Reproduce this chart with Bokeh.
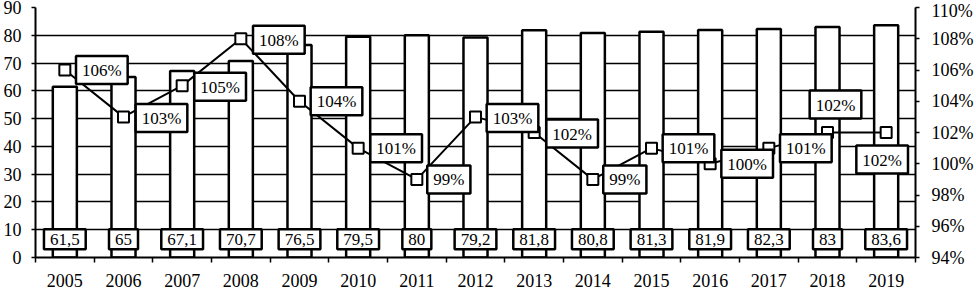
from bokeh.plotting import figure
from bokeh.models import (ColumnDataSource, Range1d, LinearAxis, FixedTicker,
                          CustomJSTickFormatter, PrintfTickFormatter)
from bokeh.core.properties import value
from bokeh.embed import file_html
from bokeh.resources import INLINE

years = ["2005", "2006", "2007", "2008", "2009", "2010", "2011", "2012",
         "2013", "2014", "2015", "2016", "2017", "2018", "2019"]
volumes = [61.5, 65, 67.1, 70.7, 76.5, 79.5, 80, 79.2, 81.8, 80.8, 81.3, 81.9, 82.3, 83, 83.6]
volume_labels = ["61,5", "65", "67,1", "70,7", "76,5", "79,5", "80", "79,2",
                 "81,8", "80,8", "81,3", "81,9", "82,3", "83", "83,6"]
growth_pct = [106, 103, 105, 108, 104, 101, 99, 103, 102, 99, 101, 100, 101, 102, 102]

# label placement (screen px offsets from marker centre)
pct_dx = [37, 38, 38, 38, 37, 38, 32, 37, 38, 32, 37, 37, 37, 8, -4]
pct_dy = [0, 1, 1, 1, 0, 0, 0, 1, 1, 0, 0, 0, 0, -28, 27]

FONT = "Liberation Serif"
n = len(years)
xc = [i + 0.5 for i in range(n)]

src = ColumnDataSource(dict(
    x=xc, vol=volumes, vlab=volume_labels, vy=[6.6] * n,
    pct=growth_pct, plab=[f"{v}%" for v in growth_pct], dx=pct_dx, dy=pct_dy,
))

p = figure(width=976, height=289, output_backend="svg", toolbar_location=None,
           x_range=Range1d(0, n), y_range=Range1d(0, 90),
           min_border_left=34, min_border_right=58, min_border_top=7, min_border_bottom=29)
p.outline_line_color = None
p.background_fill_color = "white"
p.border_fill_color = "white"

p.extra_y_ranges = {"pct": Range1d(94, 110)}

# grid
p.xgrid.visible = False
p.ygrid.grid_line_color = "black"
p.ygrid.grid_line_width = 1.5
p.ygrid.ticker = FixedTicker(ticks=list(range(0, 91, 10)))

# left axis
ya = p.yaxis[0]
ya.ticker = FixedTicker(ticks=list(range(0, 91, 10)))
ya.major_tick_out = 4
ya.major_tick_in = 0
ya.minor_tick_line_color = None
ya.major_tick_line_color = "black"
ya.major_tick_line_width = 1.5
ya.axis_line_width = 2
ya.axis_line_color = "black"
ya.major_label_standoff = 10
ya.major_label_text_font = FONT
ya.major_label_text_font_size = "18px"
ya.major_label_text_color = "black"

# right axis
ra = LinearAxis(y_range_name="pct", ticker=FixedTicker(ticks=list(range(94, 111, 2))),
                formatter=PrintfTickFormatter(format="%d%%"))
ra.major_tick_out = 4
ra.major_tick_in = 0
ra.minor_tick_line_color = None
ra.major_tick_line_width = 1.5
ra.axis_line_width = 2
ra.major_label_standoff = 12
ra.major_label_text_font = FONT
ra.major_label_text_font_size = "18px"
ra.major_label_text_color = "black"
p.add_layout(ra, "right")

# bottom axis
xa = p.xaxis[0]
xa.ticker = FixedTicker(ticks=xc, minor_ticks=list(range(0, n + 1)))
xa.formatter = CustomJSTickFormatter(args=dict(years=years),
                                     code="return years[Math.round(tick - 0.5)] || '';")
xa.major_tick_line_color = None
xa.minor_tick_line_color = "black"
xa.minor_tick_line_width = 1.5
xa.minor_tick_out = 5
xa.minor_tick_in = 0
xa.axis_line_width = 2
xa.major_label_standoff = 10
xa.major_label_text_font = FONT
xa.major_label_text_font_size = "18px"
xa.major_label_text_color = "black"

# bars
p.vbar(x="x", top="vol", width=0.41, source=src, fill_color="white",
       line_color="black", line_width=2.5)

box_pad = dict(left=6, right=6, top=5, bottom=4)

# bar value labels
p.text(x="x", y="vy", text="vlab", source=src, text_align="center", text_baseline="middle",
       text_font=value(FONT), text_font_size="17px", text_color="black",
       background_fill_color="white", border_line_color="black", border_line_width=2.5,
       padding=box_pad)

# growth line
p.line(x="x", y="pct", source=src, y_range_name="pct", line_color="black", line_width=2)
p.scatter(x="x", y="pct", source=src, y_range_name="pct", marker="square", size=11,
          fill_color="white", line_color="black", line_width=2)

p.text(x="x", y="pct", text="plab", source=src, y_range_name="pct",
       x_offset="dx", y_offset="dy", text_align="center", text_baseline="middle",
       text_font=value(FONT), text_font_size="17px", text_color="black",
       background_fill_color="white", border_line_color="black", border_line_width=2.5,
       padding=box_pad)

open("out.html", "w").write(file_html(p, INLINE))
